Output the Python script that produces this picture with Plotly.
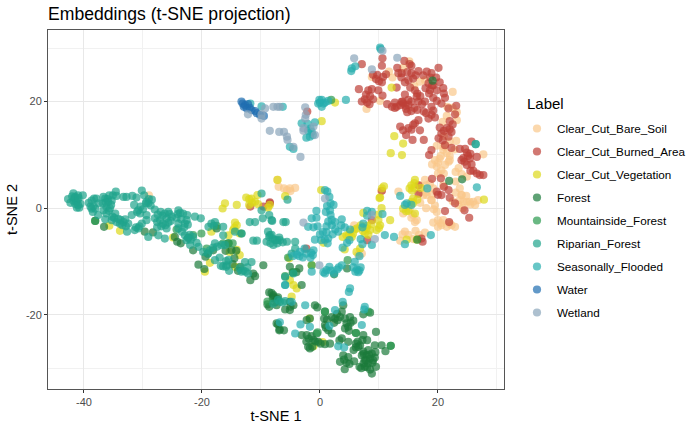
import plotly.graph_objects as go

# values, (tsne1, tsne2)
bare_soil = [(15.15,27.5),(14.1,26.3),(8.8,24.6),(17.8,24),(16.95,23.7),(22.5,21.8),(10.2,20.1),(7.9,18.6),(21.5,17.3),(23.2,18),
    (23.2,16.5),(20.8,16.2),(19.8,11.7),(23.1,12.6),(20.9,10.9),(21.5,10.3),(19.5,9),(20.3,9.3),(21.8,8.7),(19.8,7.8),
    (20.6,7.1),(21.2,8.1),(23.5,7.5),(27.7,10.1),(24.9,5.9),(17.8,5.3),(16.95,4.3),(18.65,4.6),(19.2,3.7),(18.1,2.45),
    (18.9,1.5),(23.7,3.7),(24,2.45),(23.7,1.5),(24.9,1.2),(26,1.2),(26.8,1.5),(13.3,3.1),(20.9,4.3),(-4.2,3.8),
    (-5,3.2),(-5.6,3.4),(-6.1,3.7),(-7,4),(-5.1,3.7),(-7.2,5.3),(14.4,-4.4),(16.2,-4.25),(17.8,-4.6),(16.7,-5.7),
    (13.6,-6.1),(15.8,-5.8),(14.1,-1),(15.8,-1.3),(16.4,-2.25),(16.1,-2.6),(20,-2.25),(20.6,-3.2),(20,-3.5),(22.3,-3.2),
    (22.9,-3.5),(20.9,-2.25),(24,2.45),(24.3,1.2),(25.4,1.2),(26.3,0.6),(19.8,-0.7),(18.9,1.5),(17.5,2.4),(5.8,-3.2),
    (6.5,-8.8),(7.1,-8.5),(24.2,0),(-29,2.4),(10.4,3.2),(-8.8,0.3),(21,13.5),(22,9),(20,6.5),(23,5),(17,1),(19.5,0.5),
    (22,9.8),(20.5,9.8),(20,8.5),(19,8.2),(21,6.5),(23,6.8),(24,6.4),(22.8,11),(21,11.5),(22,12.5),
    (18,3),(17,3),(19,2.6),(18,4.3),(23,2.9),(24.8,2.3),(22.5,1.3),(23.5,0.6),(25.5,0.7),(19.2,-2.7),
    (21.5,-3.5),(20.5,-2.8),(22,-2.9),(15.5,-1.8),(15.2,-0.2),(16.8,-5),(15,-5),(14,-4.9),(18,0),(19.3,-0.2),
    (22.5,18.8),(21.6,19),(12.3,24.5),(11.7,25.6),(16,22.9)]
burned_area = [(7.1,27),(10.6,28.1),(10.5,26.7),(14.3,27.6),(13.1,26.3),(15.5,26.7),(20.1,26.3),(9,25),(9.7,25),(11.2,25.1),
    (10.7,24.6),(10.5,23.6),(13.85,25.3),(13.3,25.3),(15.5,25.3),(16.7,25.7),(18.1,25.6),(18.9,25.3),(15.8,24.3),(14.4,23.6),
    (20.3,23.6),(18.4,23.4),(17.9,22.5),(20.9,22.5),(6.6,22.3),(8.2,22.1),(8.8,22.3),(9.9,22.1),(13,22.6),(15.3,22.6),
    (16.1,22.1),(18.65,22.1),(19.8,22.1),(10.6,21.1),(9,20.4),(7.6,20.4),(7.1,20),(8.4,19.5),(11.4,19.5),(12.7,19.8),
    (13.85,19.95),(14.4,21.3),(16.4,20.9),(16.7,20),(17.8,20),(19.2,20.7),(21.2,20.7),(20.6,19.6),(19.8,20.1),(18.9,19),
    (12.7,18.8),(14.6,18.6),(15.5,18.2),(16.5,18.4),(13.6,19.3),(14.1,19.6),(21.8,18.7),(23.1,19.2),(22.9,17.6),(18.9,17.5),
    (19.5,17),(22,16.3),(22.5,15.7),(22.3,14.3),(20.3,15.1),(20.6,14),(21.8,13.4),(20.1,13.1),(21.2,11.8),(13.6,15.3),
    (14.1,14.6),(15.8,15.6),(16.7,16.5),(16.1,15.9),(16.95,14.6),(14.6,13.7),(15.7,12.8),(17.6,12.8),(25.7,12.5),(18.9,10.9),
    (18.5,9.95),(22.3,11.3),(23.7,11.1),(24.6,11.1),(24.3,9.4),(25.4,9.3),(25.1,9.8),(26.6,9.6),(24.9,8.1),(25.7,8.2),
    (26.6,6.5),(27.7,6.2),(27.1,6.2),(19,5.5),(20.5,5.6),(19.8,3.1),(20.6,2.45),(21.8,3.4),(22,1.95),(22.9,0.9),
    (16.7,4.3),(16.7,2.7),(10.5,3.25),(21.2,-0.55),(24.5,-0.4),(25.3,-1.8),(21.9,-2.6),(17.2,-5.7),(17.4,-6.3),(8,-6),
    (8.8,-2.25),(-2.3,-7.6),(-8.5,0.9),(-8.5,1.1),(-9.6,0.3),(-11.8,0.3),(-2.15,18.1),(16.5,21.5),(15,20.3),(18,17.8),
    (14.5,19.2),(15,19.4),(15.5,20),(14,20),(13,19),(14.8,18),(16,18.8),(17.3,19.5),(17,21),(18.5,21.5),
    (19.2,23),(18.7,24.5),(17.5,24.9),(19.7,24.5),(15,24),(14.8,25.5),(16.2,24.9),(13.8,24.5),(10,23.8),(9.5,24.2),
    (8.5,21),(7.8,21.3),(8,19.8),(12.2,19),(17.6,18.1),(19.2,18.3),(18.4,16.8),(19,23),(21,21.5),(22,14.8),
    (21.5,15),(21,14.5),(20.8,12.7),(15.5,14.7),(15,15),(24.9,10.4),(25.5,10.2),(24.5,8.7),(26,7),(25.5,7),
    (15.2,27),(24,9),(20,2.5),(21,4)]
vegetation = [(2.55,19.8),(0.3,16.3),(12.15,22.6),(12.6,13.5),(14.1,12.1),(12,10.3),(13.9,9.95),(27.8,1.6),(10.85,4.1),(16.1,5.3),
    (15.5,4.3),(15.2,3.7),(17.1,3.8),(10.2,2),(10.5,3.7),(0.2,3.4),(-5.9,2.25),(10.1,1.9),(15.8,1.8),(16.5,1.6),
    (15.8,0.9),(16.1,-1),(14.1,-0.1),(15,-0.5),(11.9,-2.25),(10.45,0),(9.9,-2.25),(10.2,-3.2),(9.6,-4.1),(7.9,-3.8),
    (8.5,-4.1),(7.6,-4.75),(7.35,-0.9),(5.1,-4.4),(5.4,-5.4),(3.85,-5.4),(4.5,-5.1),(5.9,-4),(6.3,-3.8),(0.6,-6.5),
    (4.2,-7.75),(6.8,-7.6),(14.7,-5.9),(16.4,-5.9),(-1.4,-10.7),(-5.2,-9.4),(-5.1,-13.5),(-4.5,-14.4),(-3.95,-15.05),(-4.8,-16.6),
    (-1.8,-20.7),(-1.1,-25.9),(0.45,-25.1),(-8.5,0.6),(-35.7,-3.3),(-33.9,-4.25),(-24.9,-5.5),(-16.5,-0.06),(-16.1,0.9),(-14.1,0.6),
    (-12.5,2),(-11.6,1.8),(-12,0.6),(-10.6,2.45),(-10.5,0.75),(-8.8,0.1),(-18.4,-4.4),(-14.4,-2.7),(-14.1,-3.2),(-15.5,-5.1),
    (-14.7,-4.1),(-13.6,-8.8),(-15.3,-8.2),(-18.65,-10.25),(-19.5,-11.9),(-14.4,-11),(-13.6,-4.75),(-7.2,5.3),
    (8,-3.3),(8.7,-3),(7.3,-4.3),(8.2,-5),(6.9,-3.2),(5.6,-4.8),(4.9,-5),(9.9,-1.2),(10,-3.7),(16,4.7),
    (15.6,3.3),(16,3.8),(14.6,-0.6),(15.5,1.2),(-11,1.2),(-11.5,1),(-12,1.7),(-14.5,-3.7),(6.2,-8.2),(-14.1,-7.8)]
forest = [(9.5,-23.2),(12,-25.8),(11.1,-26.8),(10.45,-25.7),(9.3,-25.7),(8.2,-26.6),(8.8,-27.25),(7.9,-27.6),(7.35,-26.9),(7.1,-27.6),
    (7.6,-28.5),(8.5,-28.2),(9,-28.5),(8.2,-29.1),(7.6,-29.75),(8.5,-30.25),(8.8,-31),(9.5,-29.75),(6.7,-29.75),(5.8,-28.7),
    (4.2,-30.2),(3.4,-28.8),(4.5,-29),(3.95,-27.6),(4.8,-27.9),(6.1,-25.4),(6.8,-25.7),(6.5,-26),(7.35,-23.8),(7.2,-24.75),
    (8,-24.75),(6.1,-23.4),(4.8,-25.05),(3.7,-24.4),(4.25,-20.7),(5.1,-20.4),(5.65,-21.1),(4.5,-21.6),(4.25,-22.55),(4.8,-22.25),
    (2,-20.4),(2.55,-20.7),(3.4,-20.4),(0.85,-19.4),(0.7,-20.7),(0.85,-21.9),(1.4,-22.9),(2,-23.5),(3.95,-18.2),(3.7,-19.4),
    (-0.85,-18.2),(-0.45,-18.6),(7.35,-19.9),(8.5,-19.6),(-3.1,-23.8),(-2.25,-23.8),(-1.4,-24),(-0.55,-23.5),(-1.1,-24.75),(-0.3,-25.05),
    (0.85,-25.5),(1.7,-25.4),(-1.7,-26.3),(-2,-26),(-7.1,-21.8),(-6.8,-22.75),(-6.1,-22.9),(-2.25,-21),(-1.7,-20.7),(-5.1,-19.1),
    (-4.5,-18.2),(-5.1,-17.55),(-7.9,-16.3),(-8.2,-15.9),(-7.3,-17),(-5.1,-11),(-3.5,-11.3),(-4,-12),(-4.6,-12.1),(-3.1,-14.4),
    (4.6,-11.3),(2.4,-12.4),(-38.1,-2.4),(-36.6,-3.5),(-29.7,-4.4),(-28.3,-4.55),(-24.6,-5.4),(-23.6,-6.6),(-24.2,-6.3),(-21.5,-7.9),
    (-20.6,-10.6),(-19.6,-11.4),(-19.4,-9.1),(-18.1,-7.9),(-17.5,-3.8),(-14.5,-9.4),(-15.5,-6.6),(-15,-7.9),(-14.2,-8),(-9.6,-10.7),
    (-11.3,-12.25),(-11.8,-13.5),(-11,-12.75),(-13.9,-11.75),(-8.6,-15.8),(-7.9,-16.6),(-8.9,-18.05),(-8.6,-18.5),(-7.35,-18.2),(-7.35,-21.6),
    (-6.9,-22.9),(19.1,23.9),(21.9,5.1),(24.1,5.4),(16.5,-5.9),
    (8.3,-27.5),(8.9,-29),(7.8,-28.5),(8,-29.8),(7.4,-27.3),(9.3,-28),(9.4,-27),(6.4,-25),(6.1,-26.1),(5,-29.2),
    (4.1,-28.4),(7.4,-29.1),(7,-30),(3,-21),(2.9,-19.8),(1.2,-20.9),(5.2,-21.5),(4.9,-23),(1,-22.4),(-1.9,-24.5),
    (-2.3,-25),(-0.8,-25),(0.1,-25.4),(-1.3,-26),(2.4,-21.5),(5.7,-26.6),(3.3,-24.8),(-5.9,-19),(-5,-18.5),(-8,-16.9),
    (-7.1,-16.7),(-7.6,-17.6),(-13.5,-11),(-19,-8.5),(-16,-8),(-14.8,-10.5),(-22.3,-5.5)]
mountainside = [(4.7,-9.75),(-5.9,-12.75),(-1.4,-10.7),(-4.6,-12),(-5.4,-9.25),(-20.1,-4.75),(-24.3,-4),(-21.5,-5.05),(0.85,-19.4),(-0.4,-23.3),
    (8.2,-19.4),(6.1,-23.4),(12,-25.8),(26.4,12),(-19.2,-7.6),(-16.4,-6.6),(-15.5,-6.6),(-13.3,-4.75),(1.9,20.3),(-38.1,-2.4),
    (-8.9,-17.5),(-17.5,-3.3),(-14.8,-6.6)]
riparian = [(-42.7,1.7),(-41.8,2.8),(-42.3,1),(-41.5,2.1),(-41,2.4),(-40.2,2.4),(-41.8,1.4),(-41.1,1.5),(-40.6,0.8),(-41.2,0.1),
    (-40.8,0.1),(-41.5,0.8),(-39.2,1),(-38.3,1.8),(-37.9,1.8),(-36.7,2.1),(-35.7,2.4),(-34.6,3.1),(-35.1,2.4),(-34.5,2.3),
    (-33.3,2.1),(-32.8,2.1),(-31.8,2.3),(-31.1,2),(-30.2,3.3),(-29.8,2.4),(-28.5,1.6),(-29.1,0.9),(-29.5,0.9),(-30.8,-0.4),
    (-31.5,0.6),(-38.7,-0.1),(-38.1,-0.1),(-38.5,-0.7),(-37.6,-1.3),(-36.7,-0.4),(-35.9,1.2),(-35.3,1.4),(-36.2,0.25),(-35.6,-0.05),
    (-36.2,-1),(-34.7,-1),(-36.4,-2.1),(-35.3,-2.25),(-34.5,-2.6),(-33.9,-2.9),(-33.3,-2.6),(-32.5,-2.9),(-32.7,-4.4),(-31.4,-4.1),
    (-30.8,-3.8),(-30.2,-2.9),(-29.4,-2.25),(-30.5,-1),(-31.9,-1.3),(-29.4,-1.3),(-28,-0.25),(-27,-0.7),(-25.7,-0.7),(-28,-1.9),
    (-27.1,-2.25),(-26,-1.9),(-26.6,-2.9),(-25.1,-1.6),(-24,-0.4),(-23.2,-1),(-22.5,-1.3),(-21.2,-1.6),(-20.2,-1.9),(-22.6,-2.25),
    (-24,-2.9),(-22.9,-2.9),(-26,-3.8),(-27.4,-5.1),(-26.3,-5.7),(-29.1,-5.4),(-24,-3.8),(-23.4,-4.4),(-22.6,-6),(-21.5,-5.4),
    (-22,-6.9),(-20.6,-7.25),(-19.8,-8.2),(-18.65,-7.9),(-17.8,-6.6),(-18.4,-2.9),(-18.9,-3.5),(-16.4,-3.5),(-16.4,-5.1),(-14.4,-4.4),
    (-13.3,-4.75),(-11.9,-2.6),(-11,-2.6),(-9.7,-1.9),(-8.6,-1.3),(-8.1,-2.4),(-11.3,-6.1),(-10.7,-6.1),(-8.8,-4.4),(-9.05,-6.3),
    (-8.4,-6.6),(-7.6,-6),(-16.7,-6.9),(-16.1,-6.9),(-17,-9.25),(-17.8,-9.75),(-16.4,-10.9),(-15.8,-10.7),(-15.4,-11.75),(-13.6,-11.3),
    (-12.7,-10.1),(-11.6,-10.1),(-12.3,-11.1),(-13.3,-11.9),(-12.2,-12.25),(-9.9,-0.4),(-5.5,1.6),(-5.8,-2.6),(-6.2,-2.6),(-8.2,-2.25),
    (-8.5,-5.05),(-7.3,-6),(-6.8,-6),(-5.6,-6.3),(-4.2,-6.3),(-4.2,-7.6),(-4.8,-8.5),(-5.9,-12.9),(-5.9,-14.4),(-7.9,-17.9),
    (-6.8,-17.55),(-5.9,-17.4),(-9.9,2.75),(-4.5,-12.25),(-7.1,-17.2),(-6.3,-17.7),
    (-41.6,1.9),(-41.3,1.2),(-41,0.6),(-42,2.2),(-40.9,1.9),(-38.9,0.3),(-38.4,0.4),(-38.7,1.4),(-37.5,0.9),(-36.4,1.8),
    (-36,1.7),(-35.4,0.6),(-36.8,0.9),(-36.3,1),(-35.8,-0.5),(-35.2,-1.6),(-34.2,-2),(-34.9,-1.8),(-33.8,-2.2),(-33,-2.1),
    (-33.5,-3.2),(-32.9,-3.4),(-31.2,-3.6),(-30.6,-3.4),(-31,-0.7),(-30,-0.2),(-29,1.7),(-29.4,1.2),(-28.7,0.5),(-30.4,0.3),
    (-27.5,-1.2),(-26.7,-1.4),(-26.3,-1),(-25.5,-1.1),(-27.6,-2.6),(-26.9,-3.4),(-25.7,-2.7),(-25.3,-2.4),(-26.2,-3.2),(-27.6,-3.6),
    (-24.3,-1.8),(-23.7,-0.9),(-24.1,-1.1),(-23.5,-2.1),(-22.4,-3.1),(-23,-3.6),(-22.1,-5),(-22.9,-5.1),(-21.9,-5.9),(-22.4,-5.6),
    (-20.9,-6.5),(-19,-8.5),(-18.1,-7.4),(-17.4,-7.2),(-18,-3.3),(-17.8,-2.6),(-15.5,-9.7),(-15.9,-9.9),(-16.8,-10.8),(-15.9,-11),
    (-13,-11.7),(-12.6,-11.9),(-8.6,-5.4),(-8,-5.7),(-7.9,-6.9),(-7.2,-6.6),(-6.9,-5.5),(-8.2,-5),(-6.3,-6.4)]
seasonally = [(10.2,30.1),(10.3,29.8),(5.4,26.2),(5.3,25.7),(6,26.6),(0,19.8),(0.3,20.3),(0.6,19.6),(-0.3,19.6),(0.85,19.8),
    (1.4,20.1),(-3.1,15.9),(-0.85,16.1),(-1.4,14.3),(-1.7,13.4),(-2.3,13.2),(-1.2,13.7),(-5.1,11.5),(-4.5,11.1),(-6.3,19),
    (18.2,3.7),(26.4,12),(26.6,3.9),(13.6,2.3),(4.4,20.3),(-9.9,19.1),(-11.8,19.6),(-3.4,-8.2),(-2.9,-9.25),(-2.3,-8.5),
    (-1.1,-7.9),(-1.2,-8.8),(-1.4,-11.9),(0.85,3.4),(1.25,3.1),(1.6,2.1),(2.3,0.6),(1.8,0.9),(1,-0.7),(1.8,-1.3),
    (2.55,-2.6),(2,-3.2),(1.1,-3.4),(3.7,-2.1),(-0.6,-1.8),(-1.4,-1.9),(-2,-3.5),(-1.1,-3.6),(0,-4.9),(-0.85,-5.9),
    (0.85,-5.9),(1.4,-5.7),(2.15,-4.9),(3.1,-4.4),(4.2,-3.6),(5.1,-4),(4.6,-6.5),(3.85,-7.4),(7.2,-6.75),(8.8,-6.9),
    (7.35,-2.9),(7.2,-3.6),(8,-0.5),(8.8,-0.7),(10.6,-1.1),(11,-5.05),(12.55,-5.4),(14.4,-6.75),(18.8,-5.05),(14.4,0.6),
    (15.5,0.6),(14.7,0.9),(1.6,-11),(1.1,-11.6),(0.85,-12.25),(0.6,-12),(2.4,-12.25),(3.2,-11.1),(3.7,-10.7),
    (6.7,-9),(5.9,-10.05),(5.65,-11.1),(6.3,-11.5),(6.9,-11.1),(6.5,-12),(5.1,-15.05),(4.9,-15.7),(3.85,-17.55),(2.55,-19.1),
    (7.6,-18.5),(7.5,-19),(-2.5,-18.2),(-3.3,-21.8),(-4.2,-23.5),(-1.7,-22.25),(1.6,-22.1),(7.1,-21.9),(3.1,-25.9),(4.1,-26.1),
    (-6.8,-21.4),(-4.8,-17.55),(-5.9,-14.4),(-0.6,-0.5),
    (1.7,-0.4),(1.2,0.4),(2,-2.2),(1.4,-2.5),(2.6,-4),(0.5,-4.5),(-0.4,-3.4),(1.1,-4.5),(3.6,-3.2),(6.9,-5.8),
    (5,-6),(8,-1.4),(-1.5,-8.4),(-2.6,-7.6),(-3.5,-9),(-3.9,-8.7),(2.9,-11.5),(1.9,-11.7),(6,-11.9),(6.7,-11.7),
    (-4.6,-9),(-1.6,-9.3),(1.3,-6.6),(0.2,-6),(0.3,19),(-0.1,20.3),(-2.1,15.8),(-2,14.5),(-1.6,14.9)]
water = [(-13.3,20),(-12.7,19.3),(-12.2,19.5),(-12.9,19),(-11.9,18.8),(-11,18.2),(-10.7,17.8),(-9.5,17.3),(-10.2,17.5),(-12.4,18.7),
    (-13.1,19.6),(-11.6,18.4)]
wetland = [(10.6,29.5),(5.8,28.1),(8.8,26),(13.1,28.2),(-7.9,19),(-6.8,19),(-2.5,18.9),(-2.4,17.5),(-2.5,16.8),(-2.8,15),
    (-2.8,14.5),(-0.85,13.7),(-1.1,15.3),(-8.5,14.5),(-6.9,14.3),(-6.1,14.3),(-5.6,13.4),(-5.5,12.8),(-4.5,11.5),(-3.3,9.6),
    (-9.3,18.7),(-9.9,16.8),(-12.2,17.6),(-7.2,19),(-9.9,17.6),(0.85,1.8),(-2.8,-2.7),(8.8,-1.3),(9.3,-5.8),(-0.1,-10.7)]

labels = ["Clear_Cut_Bare_Soil", "Clear_Cut_Burned_Area", "Clear_Cut_Vegetation", "Forest",
          "Mountainside_Forest", "Riparian_Forest", "Seasonally_Flooded", "Water", "Wetland"]
series = [bare_soil, burned_area, vegetation, forest, mountainside, riparian, seasonally, water, wetland]
colors = ["#F9C88A", "#BE3E36", "#DDD81A", "#1B7B3A", "#2B9A4E", "#1FA48C", "#26AEAE", "#1F6DB0", "#8AA5BB"]

x_ticks = [-40, -20, 0, 20]
x_tick_labels = ["-40", "-20", "0", "20"]
y_ticks = [-20, 0, 20]
y_tick_labels = ["-20", "0", "20"]

fig = go.Figure()

for name, pts, col in zip(labels, series, colors):
    xs, ys = zip(*pts)
    fig.add_trace(go.Scatter(
        x=xs, y=ys, mode="markers", name=name, legendgroup=name,
        marker=dict(size=8.2, color=col, opacity=0.7, line=dict(width=0))
    ))

axis_style = dict(
    automargin=False,
    showgrid=True, gridcolor="#e8e8e8", gridwidth=1.2, zeroline=False,
    showline=True, linecolor="#555555", linewidth=1, mirror=True,
    ticks="outside", ticklen=3, tickcolor="#333333", tickwidth=1,
    tickfont=dict(size=11, color="#4d4d4d"),
    minor=dict(dtick=10, showgrid=True, gridcolor="#f1f1f1", gridwidth=0.7, ticks="")
)

fig.update_layout(
    width=700, height=432,
    margin=dict(l=48, r=196, t=30, b=43),
    font=dict(family="Liberation Sans, Arial, sans-serif", color="black"),
    plot_bgcolor="white", paper_bgcolor="white",
    title=dict(text="Embeddings (t-SNE projection)", x=48/700, xanchor="left",
               y=1-14/432, yanchor="middle", font=dict(size=17.6)),
    xaxis=dict(title=dict(text="t-SNE 1", font=dict(size=14.6), standoff=3), range=[-46.1, 31.2],
               tickvals=x_ticks, ticktext=x_tick_labels, **axis_style),
    yaxis=dict(title=dict(text="t-SNE 2", font=dict(size=14.6), standoff=4), range=[-33.9, 33.4],
               tickvals=y_ticks, ticktext=y_tick_labels, **axis_style),
    legend=dict(xref="container", yref="container", x=517/700, xanchor="left", y=1-114/432, yanchor="top",
                tracegroupgap=4, font=dict(size=11.7, color="black"), itemsizing="trace"),
    annotations=[dict(text="Label", x=1.046, xref="paper", xanchor="left", y=0.794, yref="paper",
                      yanchor="middle", showarrow=False, font=dict(size=15))],
)

# page body default margin would push the figure 8px off the window
fig.write_html("out.html", config=dict(displayModeBar=False),
               post_script="document.body.style.margin='0';")
